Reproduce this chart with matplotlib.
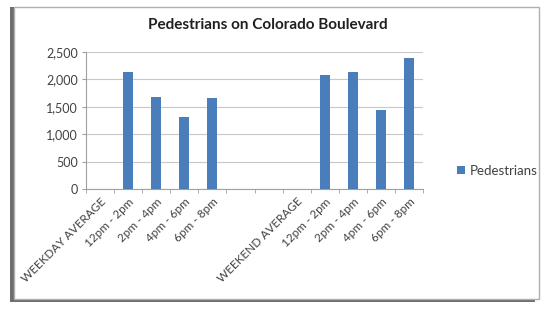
import numpy as np
import matplotlib.pyplot as plt
from matplotlib.patches import Rectangle

plt.rcParams["font.family"] = ["Lato", "DejaVu Sans"]

categories = ["WEEKDAY AVERAGE", "12pm - 2pm", "2pm - 4pm", "4pm - 6pm", "6pm - 8pm", "", "",
              "WEEKEND AVERAGE", "12pm - 2pm", "2pm - 4pm", "4pm - 6pm", "6pm - 8pm"]
pedestrians = [0, 2140, 1670, 1320, 1665, 0, 0, 0, 2075, 2135, 1440, 2380]

fig = plt.figure(figsize=(5.46, 3.09), dpi=100)

# chart frame with shadow (left/bottom)
fig.patches.append(Rectangle((0.018, 0.022), 0.962, 0.955, transform=fig.transFigure,
                             facecolor="#6e6e6e", edgecolor="none", zorder=0))
fig.patches.append(Rectangle((0.026, 0.032), 0.962, 0.945, transform=fig.transFigure,
                             facecolor="white", edgecolor="#b0b0b0", lw=1.0, zorder=1))

ax = fig.add_axes([0.1575, 0.388, 0.6175, 0.444])
ax.set_zorder(5)
ax.patch.set_alpha(0)
x = np.arange(len(categories))
ax.bar(x, pedestrians, width=0.36, color="#4a7ebb", zorder=3, label="Pedestrians")

ax.set_xlim(-0.5, len(categories) - 0.5)
ax.set_ylim(0, 2500)
ax.set_yticks(np.arange(0, 2501, 500))
ax.set_yticklabels([f"{v:,}" for v in range(0, 2501, 500)], fontsize=9, color="#404040")
ax.yaxis.grid(True, color="#c8c8c8", lw=0.8, zorder=0)

ax.set_xticks(x)
ax.set_xticklabels(categories, rotation=45, ha="right", rotation_mode="anchor",
                   fontsize=8.5, color="#404040")
ax.tick_params(axis="x", length=0, pad=5)
ax.set_xticks(np.arange(-0.5, len(categories)), minor=True)
ax.tick_params(axis="x", which="minor", length=3, color="#a0a0a0")
ax.tick_params(axis="y", length=3, color="#a0a0a0", pad=3)

for s in ["top", "right"]:
    ax.spines[s].set_visible(False)
ax.spines["left"].set_color("#a0a0a0")
ax.spines["bottom"].set_color("#a0a0a0")

fig.text(0.49, 0.92, "Pedestrians on Colorado Boulevard", ha="center", va="center",
         fontsize=11, fontweight="bold", color="#202020", zorder=6)

leg = fig.legend(loc="center left", bbox_to_anchor=(0.815, 0.447), frameon=False,
                 fontsize=9.5, handlelength=0.6, handleheight=0.6, handletextpad=0.4,
                 labelcolor="#404040")
leg.set_zorder(6)

fig.savefig("out.png", dpi=100)
